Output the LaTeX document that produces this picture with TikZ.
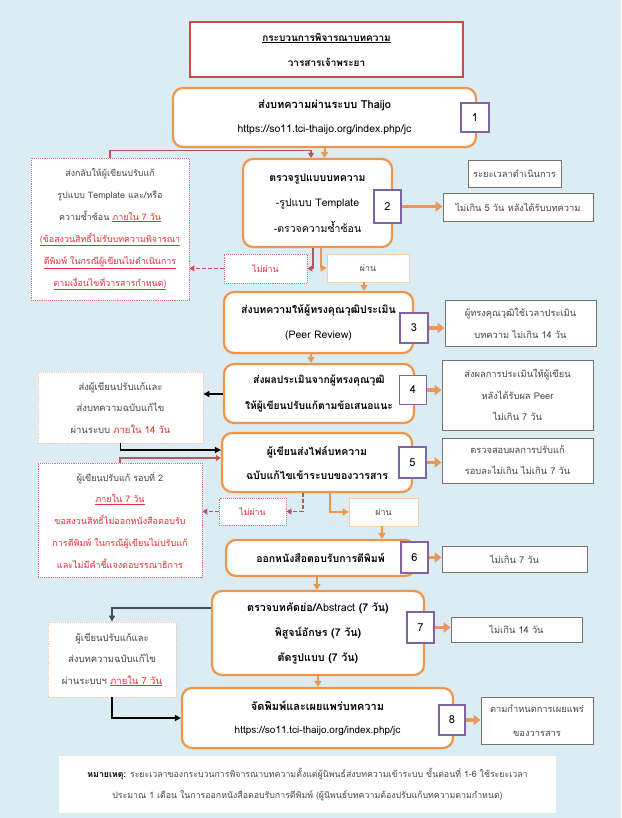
\documentclass[tikz,border=0pt]{standalone}
\usepackage{fontspec}
\setmainfont[Script=Thai]{Loma}
\usetikzlibrary{arrows.meta,calc}
\definecolor{bgblue}{RGB}{219,237,243}
\definecolor{orangeb}{RGB}{240,150,75}
\definecolor{orangea}{RGB}{232,152,95}
\definecolor{purp}{RGB}{128,100,162}
\definecolor{ttlred}{RGB}{192,80,77}
\definecolor{redtxt}{RGB}{232,45,55}
\definecolor{redline}{RGB}{185,85,95}
\definecolor{dotred}{RGB}{225,110,130}
\definecolor{paleb}{RGB}{240,200,185}
\definecolor{passb}{RGB}{248,205,165}
\definecolor{txtgray}{RGB}{70,70,70}
\definecolor{slate}{RGB}{70,80,90}
\newcommand\myfs[2]{\fontsize{#1}{#2}\selectfont}
\newcommand\rd[1]{\textcolor{redtxt}{#1}}
\newcommand\rdu[1]{\textcolor{redtxt}{\underline{#1}}}
\begin{document}
\begin{tikzpicture}[x=1pt,y=-1pt,
  titlebox/.style={draw=ttlred, line width=2pt, fill=white, align=center, inner sep=0pt, font=\bfseries\myfs{10}{25}},
  procbox/.style={draw=orangeb, line width=2.2pt, rounded corners=10pt, fill=white, align=center, inner sep=0pt},
  numbox/.style={draw=purp, line width=1.8pt, fill=white, inner sep=0pt, font=\myfs{11}{13}},
  timebox/.style={draw=gray!90!black, line width=0.8pt, fill=white, align=center, inner sep=0pt, text=txtgray, font=\myfs{9.3}{22}},
  redbox/.style={draw=dotred, densely dotted, line width=0.9pt, fill=white, align=center, inner sep=0pt, text=txtgray},
  palebox/.style={draw=paleb, densely dotted, line width=0.9pt, fill=white, align=center, inner sep=0pt, text=txtgray, font=\myfs{9.5}{21.5}},
  passbox/.style={draw=passb, line width=0.9pt, fill=white, align=center, inner sep=0pt, text=txtgray, font=\myfs{8.8}{10}},
  failbox/.style={draw=dotred, densely dotted, line width=0.9pt, fill=white, align=center, inner sep=0pt, text=redtxt, font=\myfs{8.8}{10}},
  oarrow/.style={draw=orangeb, line width=2pt, -{Triangle[length=6pt,width=7pt]}},
  tharrow/.style={draw=orangea, line width=3.5pt, -{Triangle[length=7pt,width=10pt]}},
  redc/.style={draw=redline, line width=1.3pt, -{Triangle[length=5pt,width=6pt]}},
  reddash/.style={draw=redline, line width=1.3pt, dash pattern=on 4pt off 2pt, -{Triangle[length=5pt,width=6pt]}},
  blk/.style={draw=black, line width=1.3pt, -{Triangle[length=6pt,width=6pt]}},
  slatec/.style={draw=slate, line width=1.3pt, -{Triangle[length=6pt,width=6pt]}}
]
\useasboundingbox (0,0) rectangle (621,818);
\fill[bgblue] (0,0) rectangle (621,818);

% title
\node[titlebox, minimum width=273pt, minimum height=55pt] (title) at (326.5,49.5)
  {\underline{กระบวนการพิจารณาบทความ}\\วารสารเจ้าพระยา};

% step 1
\node[procbox, minimum width=303pt, minimum height=59pt, font=\myfs{11}{24}] (box1) at (324.5,117.5)
  {\textbf{ส่งบทความผ่านระบบ Thaijo}\\{\myfs{10.5}{24}https://so11.tci-thaijo.org/index.php/jc}};
\node[numbox, minimum width=28pt, minimum height=29pt] (num1) at (475,117.5) {1};

% step 2
\node[procbox, minimum width=149pt, minimum height=88pt, font=\myfs{10.5}{25.5}] (box2) at (317.5,203)
  {\textbf{ตรวจรูปแบบบทความ}\\-รูปแบบ Template\\-ตรวจความซ้ำซ้อน};
\node[numbox, minimum width=27pt, minimum height=33pt] (num2) at (387.5,206.5) {2};
\node[timebox, minimum width=93pt, minimum height=27pt] (rbh) at (514.5,173.5) {ระยะเวลาดำเนินการ};
\node[timebox, minimum width=150pt, minimum height=28pt] (rb2) at (518,207) {ไม่เกิน 5 วัน หลังได้รับบทความ};
\node[redbox, minimum width=158pt, minimum height=142pt, font=\myfs{8.9}{22}] (lb1) at (110,229)
  {ส่งกลับให้ผู้เขียนปรับแก้\\รูปแบบ Template และ/หรือ\\ความซ้ำซ้อน \rdu{ภายใน 7 วัน}\\
   \rdu{(ข้อสงวนสิทธิ์ไม่รับบทความพิจารณา}\\\rdu{ตีพิมพ์ ในกรณีผู้เขียนไม่ดำเนินการ}\\\rdu{ตามเงื่อนไขที่วารสารกำหนด)}};
\node[failbox, minimum width=83pt, minimum height=29pt] (fail1) at (265.5,268.5) {ไม่ผ่าน};
\node[passbox, minimum width=82pt, minimum height=28pt] (pass1) at (368,268) {ผ่าน};

% step 3
\node[procbox, minimum width=189pt, minimum height=61pt, font=\myfs{10.5}{25}] (box3) at (318.5,322.5)
  {\textbf{ส่งบทความให้ผู้ทรงคุณวุฒิประเมิน}\\(Peer Review)};
\node[numbox, minimum width=28pt, minimum height=30pt] (num3) at (414,328) {3};
\node[timebox, minimum width=151pt, minimum height=46pt] (rb3) at (520.5,323)
  {ผู้ทรงคุณวุฒิใช้เวลาประเมิน\\บทความ ไม่เกิน 14 วัน};

% step 4
\node[procbox, minimum width=190pt, minimum height=59pt, font=\bfseries\myfs{10.3}{26}] (box4) at (319,393.5)
  {ส่งผลประเมินจากผู้ทรงคุณวุฒิ\\ให้ผู้เขียนปรับแก้ตามข้อเสนอแนะ};
\node[numbox, minimum width=27pt, minimum height=29pt] (num4) at (413,390) {4};
\node[timebox, minimum width=151pt, minimum height=70pt, font=\myfs{9.3}{21.5}] (rb4) at (517.5,395)
  {ส่งผลการประเมินให้ผู้เขียน\\หลังได้รับผล Peer\\ไม่เกิน 7 วัน};
\node[palebox, minimum width=165pt, minimum height=71pt] (lb4) at (120.5,407.5)
  {ส่งผู้เขียนปรับแก้และ\\ส่งบทความฉบับแก้ไข\\ผ่านระบบ \rd{ภายใน 14 วัน}};

% step 5
\node[procbox, minimum width=190pt, minimum height=59pt, font=\bfseries\myfs{10.5}{24}] (box5) at (317,462.5)
  {ผู้เขียนส่งไฟล์บทความ\\ฉบับแก้ไขเข้าระบบของวารสาร};
\node[numbox, minimum width=27pt, minimum height=31pt] (num5) at (412.5,462.5) {5};
\node[timebox, minimum width=151pt, minimum height=45pt, font=\myfs{9.3}{21}] (rb5) at (517.5,460.5)
  {ตรวจสอบผลการปรับแก้\\รอบละไม่เกิน ไม่เกิน 7 วัน};
\node[redbox, minimum width=164pt, minimum height=114pt, font=\myfs{9}{21.75}] (lb5) at (120,520)
  {ผู้เขียนปรับแก้ รอบที่ 2\\\rdu{ภายใน 7 วัน}\\\rd{ขอสงวนสิทธิ์ไม่ออกหนังสือตอบรับ}\\
   \rd{การตีพิมพ์ ในกรณีผู้เขียนไม่ปรับแก้}\\\rd{และไม่มีคำชี้แจงต่อบรรณาธิการ}};
\node[failbox, minimum width=67pt, minimum height=27pt] (fail2) at (252.5,511.5) {ไม่ผ่าน};
\node[passbox, minimum width=69pt, minimum height=28pt] (pass2) at (383.5,512) {ผ่าน};

% step 6
\node[procbox, minimum width=189pt, minimum height=36pt, font=\bfseries\myfs{10.5}{13}] (box6) at (320.5,558)
  {ออกหนังสือตอบรับการตีพิมพ์};
\node[numbox, minimum width=27pt, minimum height=31pt] (num6) at (414.5,557.5) {6};
\node[timebox, minimum width=145pt, minimum height=26pt] (rb6) at (514.5,559) {ไม่เกิน 7 วัน};

% step 7
\node[procbox, minimum width=212pt, minimum height=84pt, font=\bfseries\myfs{10.7}{25}] (box7) at (318,633)
  {ตรวจบทคัดย่อ/{\mdseries Abstract} (7 วัน)\\พิสูจน์อักษร (7 วัน)\\ตัดรูปแบบ (7 วัน)};
\node[numbox, minimum width=27pt, minimum height=31pt] (num7) at (420.5,627.5) {7};
\node[timebox, minimum width=131pt, minimum height=25pt] (rb7) at (516.5,629.5) {ไม่เกิน 14 วัน};
\node[palebox, minimum width=128pt, minimum height=75pt] (lb7) at (112,659.5)
  {ผู้เขียนปรับแก้และ\\ส่งบทความฉบับแก้ไข\\ผ่านระบบฯ \rdu{ภายใน 7 วัน}};

% step 8
\node[procbox, minimum width=271pt, minimum height=60pt, font=\myfs{11}{23}] (box8) at (317.5,718)
  {\textbf{จัดพิมพ์และเผยแพร่บทความ}\\{\myfs{10}{23}https://so11.tci-thaijo.org/index.php/jc}};
\node[numbox, minimum width=26pt, minimum height=30pt] (num8) at (452,720) {8};
\node[timebox, minimum width=112pt, minimum height=47pt, font=\myfs{9.3}{24}] (rb8) at (537,720.5)
  {ตามกำหนดการเผยแพร่\\ของวารสาร};

% note
\node[fill=white, minimum width=497pt, minimum height=57pt, inner sep=0pt, align=center, text=txtgray, font=\myfs{8.8}{21}] (note) at (307.5,784.5)
  {\textbf{\textcolor{black}{หมายเหตุ:}} ระยะเวลาของกระบวนการพิจารณาบทความตั้งแต่ผู้นิพนธ์ส่งบทความเข้าระบบ ขั้นตอนที่ 1-6 ใช้ระยะเวลา\\
   ประมาณ 1 เดือน ในการออกหนังสือตอบรับการตีพิมพ์ (ผู้นิพนธ์บทความต้องปรับแก้บทความตามกำหนด)};

% connectors
\draw[oarrow] (box1.south) -- (box1.south |- box2.north);
\draw[redc] (lb1.north) -- ++(0,-7) -| ([xshift=-6.5pt]box2.north);
\draw[redc] ([xshift=-4.5pt]box2.south) |- (fail1.east);
\draw[oarrow] ([xshift=3.5pt]box2.south) |- (pass1.west);
\draw[reddash] (fail1.west) -- (fail1.west -| lb1.east);
\draw[oarrow] ([xshift=-4pt]pass1.south) -- ([xshift=-4pt]pass1.south |- box3.north);
\draw[tharrow] (num2.east) -- (num2.east -| rb2.west);
\draw[tharrow] (num3.east) -- (num3.east -| rb3.west);
\draw[oarrow] ([xshift=-7.5pt]box3.south) -- ([xshift=-7.5pt]box3.south |- box4.north);
\draw[blk] ([yshift=-0.5pt]box4.west) -- ([yshift=-0.5pt]box4.west -| lb4.east);
\draw[tharrow] (num4.east) -- (num4.east -| rb4.west);
\draw[blk] (lb4.south) |- ([yshift=12.5pt]box5.west);
\draw[redc] (lb5.north) |- ([yshift=4.5pt]box5.west);
\draw[tharrow] (num5.east) -- (num5.east -| rb5.west);
\draw[reddash] ([xshift=-14pt]box5.south) |- (fail2.east);
\draw[reddash] (fail2.west) -- (fail2.west -| lb5.east);
\draw[oarrow] ([xshift=13pt]box5.south) |- (pass2.west);
\draw[oarrow] ([xshift=-1.5pt]pass2.south) -- ([xshift=-1.5pt]pass2.south |- box6.north);
\draw[tharrow] (num6.east) -- (num6.east -| rb6.west);
\draw[oarrow] ([xshift=-3.5pt]box6.south) -- ([xshift=-3.5pt]box6.south |- box7.north);
\draw[slatec] ([yshift=25pt]box7.west) -| (lb7.north);
\draw[tharrow] (num7.east) -- (num7.east -| rb7.west);
\draw[oarrow] (box7.south) -- (box7.south |- box8.north);
\draw[blk] (lb7.south) |- (box8.west);
\draw[tharrow] (num8.east) -- (num8.east -| rb8.west);
\end{tikzpicture}
\end{document}
